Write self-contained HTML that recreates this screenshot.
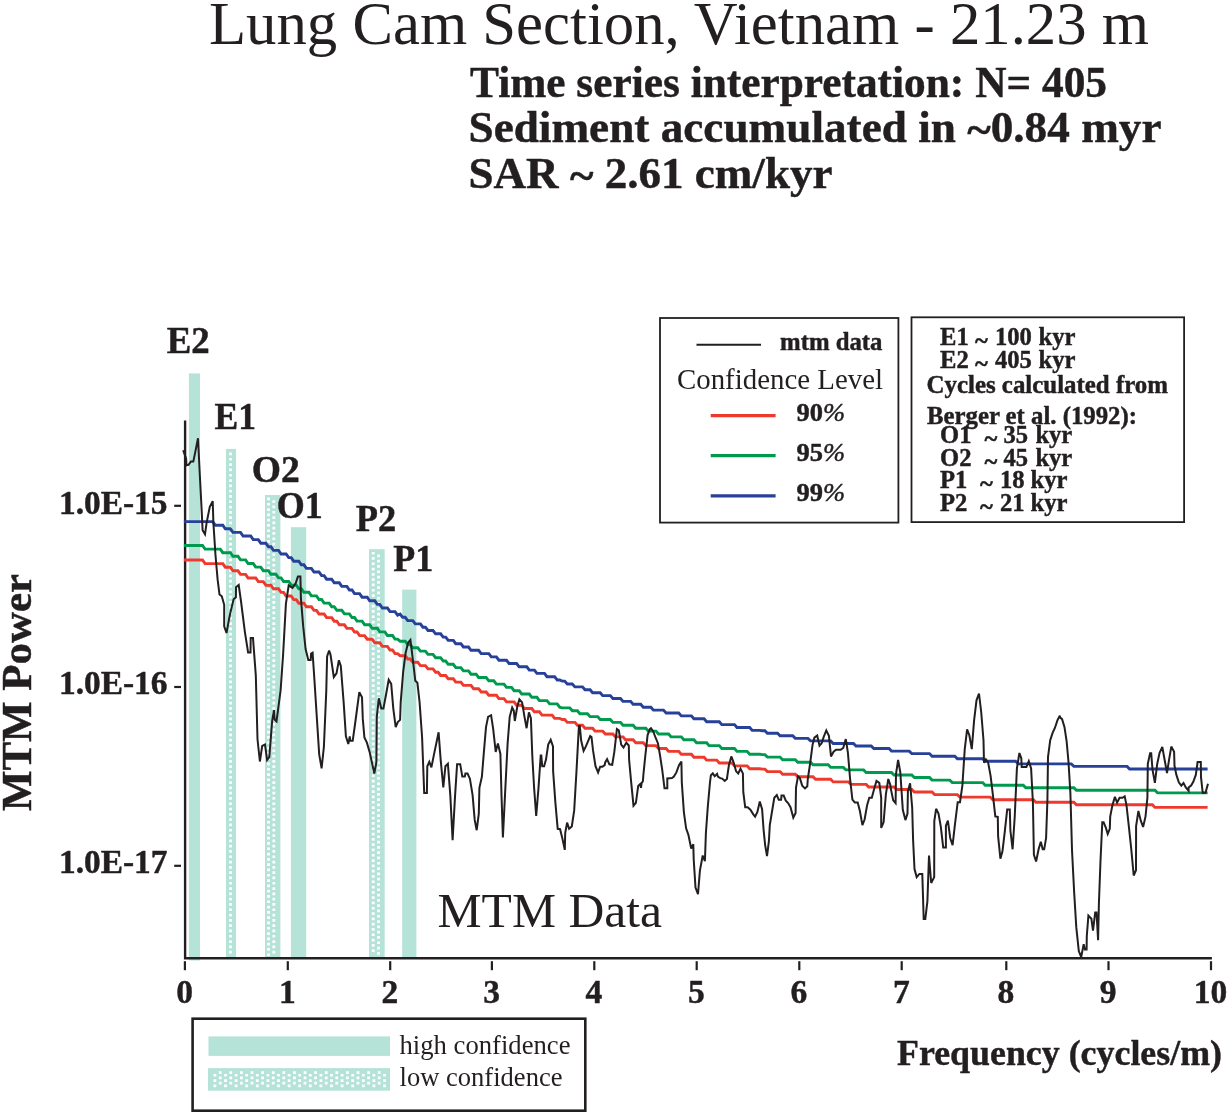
<!DOCTYPE html>
<html><head><meta charset="utf-8"><title>Lung Cam Section</title>
<style>
html,body{margin:0;padding:0;background:#fff;}
svg{display:block;font-family:"Liberation Serif","Times New Roman",serif;fill:#231f20;}
.b{font-weight:bold;stroke:#231f20;stroke-width:0.45px;stroke-linejoin:round;}
</style></head><body>
<svg width="1230" height="1116" viewBox="0 0 1230 1116">
<rect width="1230" height="1116" fill="#fff"/>
<rect x="188.9" y="373.4" width="11.1" height="587.1" fill="#b5e3d8"/>
<rect x="226" y="448.9" width="10.0" height="509.4" fill="#b5e3d8"/>
<path d="M229.1 452.6h2.8v2.7h-2.8zM229.1 457.9h2.8v2.7h-2.8zM229.1 463.2h2.8v2.7h-2.8zM229.1 468.6h2.8v2.7h-2.8zM229.1 473.9h2.8v2.7h-2.8zM229.1 479.2h2.8v2.7h-2.8zM229.1 484.5h2.8v2.7h-2.8zM229.1 489.8h2.8v2.7h-2.8zM229.1 495.1h2.8v2.7h-2.8zM229.1 500.4h2.8v2.7h-2.8zM229.1 505.7h2.8v2.7h-2.8zM229.1 511.0h2.8v2.7h-2.8zM229.1 516.2h2.8v2.7h-2.8zM229.1 521.5h2.8v2.7h-2.8zM229.1 526.8h2.8v2.7h-2.8zM229.1 532.1h2.8v2.7h-2.8zM229.1 537.4h2.8v2.7h-2.8zM229.1 542.7h2.8v2.7h-2.8zM229.1 548.0h2.8v2.7h-2.8zM229.1 553.3h2.8v2.7h-2.8zM229.1 558.6h2.8v2.7h-2.8zM229.1 563.9h2.8v2.7h-2.8zM229.1 569.2h2.8v2.7h-2.8zM229.1 574.5h2.8v2.7h-2.8zM229.1 579.8h2.8v2.7h-2.8zM229.1 585.1h2.8v2.7h-2.8zM229.1 590.4h2.8v2.7h-2.8zM229.1 595.7h2.8v2.7h-2.8zM229.1 601.0h2.8v2.7h-2.8zM229.1 606.3h2.8v2.7h-2.8zM229.1 611.6h2.8v2.7h-2.8zM229.1 616.9h2.8v2.7h-2.8zM229.1 622.2h2.8v2.7h-2.8zM229.1 627.5h2.8v2.7h-2.8zM229.1 632.8h2.8v2.7h-2.8zM229.1 638.1h2.8v2.7h-2.8zM229.1 643.4h2.8v2.7h-2.8zM229.1 648.7h2.8v2.7h-2.8zM229.1 654.0h2.8v2.7h-2.8zM229.1 659.3h2.8v2.7h-2.8zM229.1 664.6h2.8v2.7h-2.8zM229.1 669.9h2.8v2.7h-2.8zM229.1 675.2h2.8v2.7h-2.8zM229.1 680.5h2.8v2.7h-2.8zM229.1 685.8h2.8v2.7h-2.8zM229.1 691.1h2.8v2.7h-2.8zM229.1 696.4h2.8v2.7h-2.8zM229.1 701.7h2.8v2.7h-2.8zM229.1 707.0h2.8v2.7h-2.8zM229.1 712.3h2.8v2.7h-2.8zM229.1 717.6h2.8v2.7h-2.8zM229.1 722.9h2.8v2.7h-2.8zM229.1 728.2h2.8v2.7h-2.8zM229.1 733.5h2.8v2.7h-2.8zM229.1 738.8h2.8v2.7h-2.8zM229.1 744.1h2.8v2.7h-2.8zM229.1 749.4h2.8v2.7h-2.8zM229.1 754.7h2.8v2.7h-2.8zM229.1 760.0h2.8v2.7h-2.8zM229.1 765.3h2.8v2.7h-2.8zM229.1 770.6h2.8v2.7h-2.8zM229.1 775.9h2.8v2.7h-2.8zM229.1 781.2h2.8v2.7h-2.8zM229.1 786.5h2.8v2.7h-2.8zM229.1 791.8h2.8v2.7h-2.8zM229.1 797.1h2.8v2.7h-2.8zM229.1 802.4h2.8v2.7h-2.8zM229.1 807.7h2.8v2.7h-2.8zM229.1 813.0h2.8v2.7h-2.8zM229.1 818.3h2.8v2.7h-2.8zM229.1 823.6h2.8v2.7h-2.8zM229.1 828.9h2.8v2.7h-2.8zM229.1 834.2h2.8v2.7h-2.8zM229.1 839.5h2.8v2.7h-2.8zM229.1 844.8h2.8v2.7h-2.8zM229.1 850.1h2.8v2.7h-2.8zM229.1 855.4h2.8v2.7h-2.8zM229.1 860.7h2.8v2.7h-2.8zM229.1 866.0h2.8v2.7h-2.8zM229.1 871.3h2.8v2.7h-2.8zM229.1 876.6h2.8v2.7h-2.8zM229.1 881.9h2.8v2.7h-2.8zM229.1 887.2h2.8v2.7h-2.8zM229.1 892.5h2.8v2.7h-2.8zM229.1 897.8h2.8v2.7h-2.8zM229.1 903.1h2.8v2.7h-2.8zM229.1 908.4h2.8v2.7h-2.8zM229.1 913.7h2.8v2.7h-2.8zM229.1 919.0h2.8v2.7h-2.8zM229.1 924.3h2.8v2.7h-2.8zM229.1 929.6h2.8v2.7h-2.8zM229.1 934.9h2.8v2.7h-2.8zM229.1 940.2h2.8v2.7h-2.8zM229.1 945.5h2.8v2.7h-2.8zM229.1 950.8h2.8v2.7h-2.8z" fill="#fff"/>
<rect x="265" y="495" width="15.4" height="463.3" fill="#b5e3d8"/>
<path d="M267.1 497.6h2.8v2.7h-2.8zM267.1 502.9h2.8v2.7h-2.8zM267.1 508.2h2.8v2.7h-2.8zM267.1 513.5h2.8v2.7h-2.8zM267.1 518.8h2.8v2.7h-2.8zM267.1 524.1h2.8v2.7h-2.8zM267.1 529.4h2.8v2.7h-2.8zM267.1 534.7h2.8v2.7h-2.8zM267.1 540.0h2.8v2.7h-2.8zM267.1 545.3h2.8v2.7h-2.8zM267.1 550.6h2.8v2.7h-2.8zM267.1 555.9h2.8v2.7h-2.8zM267.1 561.2h2.8v2.7h-2.8zM267.1 566.5h2.8v2.7h-2.8zM267.1 571.8h2.8v2.7h-2.8zM267.1 577.1h2.8v2.7h-2.8zM267.1 582.4h2.8v2.7h-2.8zM267.1 587.7h2.8v2.7h-2.8zM267.1 593.0h2.8v2.7h-2.8zM267.1 598.3h2.8v2.7h-2.8zM267.1 603.6h2.8v2.7h-2.8zM267.1 608.9h2.8v2.7h-2.8zM267.1 614.2h2.8v2.7h-2.8zM267.1 619.5h2.8v2.7h-2.8zM267.1 624.8h2.8v2.7h-2.8zM267.1 630.1h2.8v2.7h-2.8zM267.1 635.4h2.8v2.7h-2.8zM267.1 640.7h2.8v2.7h-2.8zM267.1 646.0h2.8v2.7h-2.8zM267.1 651.3h2.8v2.7h-2.8zM267.1 656.6h2.8v2.7h-2.8zM267.1 661.9h2.8v2.7h-2.8zM267.1 667.2h2.8v2.7h-2.8zM267.1 672.5h2.8v2.7h-2.8zM267.1 677.8h2.8v2.7h-2.8zM267.1 683.1h2.8v2.7h-2.8zM267.1 688.4h2.8v2.7h-2.8zM267.1 693.7h2.8v2.7h-2.8zM267.1 699.0h2.8v2.7h-2.8zM267.1 704.3h2.8v2.7h-2.8zM267.1 709.6h2.8v2.7h-2.8zM267.1 714.9h2.8v2.7h-2.8zM267.1 720.2h2.8v2.7h-2.8zM267.1 725.5h2.8v2.7h-2.8zM267.1 730.8h2.8v2.7h-2.8zM267.1 736.1h2.8v2.7h-2.8zM267.1 741.4h2.8v2.7h-2.8zM267.1 746.7h2.8v2.7h-2.8zM267.1 752.0h2.8v2.7h-2.8zM267.1 757.3h2.8v2.7h-2.8zM267.1 762.6h2.8v2.7h-2.8zM267.1 767.9h2.8v2.7h-2.8zM267.1 773.2h2.8v2.7h-2.8zM267.1 778.5h2.8v2.7h-2.8zM267.1 783.8h2.8v2.7h-2.8zM267.1 789.1h2.8v2.7h-2.8zM267.1 794.4h2.8v2.7h-2.8zM267.1 799.7h2.8v2.7h-2.8zM267.1 805.0h2.8v2.7h-2.8zM267.1 810.3h2.8v2.7h-2.8zM267.1 815.6h2.8v2.7h-2.8zM267.1 820.9h2.8v2.7h-2.8zM267.1 826.2h2.8v2.7h-2.8zM267.1 831.5h2.8v2.7h-2.8zM267.1 836.8h2.8v2.7h-2.8zM267.1 842.1h2.8v2.7h-2.8zM267.1 847.4h2.8v2.7h-2.8zM267.1 852.7h2.8v2.7h-2.8zM267.1 858.0h2.8v2.7h-2.8zM267.1 863.3h2.8v2.7h-2.8zM267.1 868.6h2.8v2.7h-2.8zM267.1 873.9h2.8v2.7h-2.8zM267.1 879.2h2.8v2.7h-2.8zM267.1 884.5h2.8v2.7h-2.8zM267.1 889.8h2.8v2.7h-2.8zM267.1 895.1h2.8v2.7h-2.8zM267.1 900.4h2.8v2.7h-2.8zM267.1 905.7h2.8v2.7h-2.8zM267.1 911.0h2.8v2.7h-2.8zM267.1 916.3h2.8v2.7h-2.8zM267.1 921.6h2.8v2.7h-2.8zM267.1 926.9h2.8v2.7h-2.8zM267.1 932.2h2.8v2.7h-2.8zM267.1 937.5h2.8v2.7h-2.8zM267.1 942.8h2.8v2.7h-2.8zM267.1 948.1h2.8v2.7h-2.8zM267.1 953.4h2.8v2.7h-2.8zM272.4 500.3h2.8v2.7h-2.8zM272.4 505.6h2.8v2.7h-2.8zM272.4 510.9h2.8v2.7h-2.8zM272.4 516.2h2.8v2.7h-2.8zM272.4 521.5h2.8v2.7h-2.8zM272.4 526.8h2.8v2.7h-2.8zM272.4 532.1h2.8v2.7h-2.8zM272.4 537.4h2.8v2.7h-2.8zM272.4 542.7h2.8v2.7h-2.8zM272.4 548.0h2.8v2.7h-2.8zM272.4 553.3h2.8v2.7h-2.8zM272.4 558.6h2.8v2.7h-2.8zM272.4 563.9h2.8v2.7h-2.8zM272.4 569.2h2.8v2.7h-2.8zM272.4 574.5h2.8v2.7h-2.8zM272.4 579.8h2.8v2.7h-2.8zM272.4 585.1h2.8v2.7h-2.8zM272.4 590.4h2.8v2.7h-2.8zM272.4 595.7h2.8v2.7h-2.8zM272.4 601.0h2.8v2.7h-2.8zM272.4 606.3h2.8v2.7h-2.8zM272.4 611.6h2.8v2.7h-2.8zM272.4 616.9h2.8v2.7h-2.8zM272.4 622.2h2.8v2.7h-2.8zM272.4 627.5h2.8v2.7h-2.8zM272.4 632.8h2.8v2.7h-2.8zM272.4 638.1h2.8v2.7h-2.8zM272.4 643.4h2.8v2.7h-2.8zM272.4 648.7h2.8v2.7h-2.8zM272.4 654.0h2.8v2.7h-2.8zM272.4 659.3h2.8v2.7h-2.8zM272.4 664.6h2.8v2.7h-2.8zM272.4 669.9h2.8v2.7h-2.8zM272.4 675.2h2.8v2.7h-2.8zM272.4 680.5h2.8v2.7h-2.8zM272.4 685.8h2.8v2.7h-2.8zM272.4 691.1h2.8v2.7h-2.8zM272.4 696.4h2.8v2.7h-2.8zM272.4 701.7h2.8v2.7h-2.8zM272.4 707.0h2.8v2.7h-2.8zM272.4 712.3h2.8v2.7h-2.8zM272.4 717.6h2.8v2.7h-2.8zM272.4 722.9h2.8v2.7h-2.8zM272.4 728.2h2.8v2.7h-2.8zM272.4 733.5h2.8v2.7h-2.8zM272.4 738.8h2.8v2.7h-2.8zM272.4 744.1h2.8v2.7h-2.8zM272.4 749.4h2.8v2.7h-2.8zM272.4 754.7h2.8v2.7h-2.8zM272.4 760.0h2.8v2.7h-2.8zM272.4 765.3h2.8v2.7h-2.8zM272.4 770.6h2.8v2.7h-2.8zM272.4 775.9h2.8v2.7h-2.8zM272.4 781.2h2.8v2.7h-2.8zM272.4 786.5h2.8v2.7h-2.8zM272.4 791.8h2.8v2.7h-2.8zM272.4 797.1h2.8v2.7h-2.8zM272.4 802.4h2.8v2.7h-2.8zM272.4 807.7h2.8v2.7h-2.8zM272.4 813.0h2.8v2.7h-2.8zM272.4 818.3h2.8v2.7h-2.8zM272.4 823.6h2.8v2.7h-2.8zM272.4 828.9h2.8v2.7h-2.8zM272.4 834.2h2.8v2.7h-2.8zM272.4 839.5h2.8v2.7h-2.8zM272.4 844.8h2.8v2.7h-2.8zM272.4 850.1h2.8v2.7h-2.8zM272.4 855.4h2.8v2.7h-2.8zM272.4 860.7h2.8v2.7h-2.8zM272.4 866.0h2.8v2.7h-2.8zM272.4 871.3h2.8v2.7h-2.8zM272.4 876.6h2.8v2.7h-2.8zM272.4 881.9h2.8v2.7h-2.8zM272.4 887.2h2.8v2.7h-2.8zM272.4 892.5h2.8v2.7h-2.8zM272.4 897.8h2.8v2.7h-2.8zM272.4 903.1h2.8v2.7h-2.8zM272.4 908.4h2.8v2.7h-2.8zM272.4 913.7h2.8v2.7h-2.8zM272.4 919.0h2.8v2.7h-2.8zM272.4 924.3h2.8v2.7h-2.8zM272.4 929.6h2.8v2.7h-2.8zM272.4 934.9h2.8v2.7h-2.8zM272.4 940.2h2.8v2.7h-2.8zM272.4 945.5h2.8v2.7h-2.8zM272.4 950.8h2.8v2.7h-2.8z" fill="#fff"/>
<rect x="290.9" y="527.2" width="15.3" height="431.1" fill="#b5e3d8"/>
<rect x="369" y="549.2" width="15.7" height="409.1" fill="#b5e3d8"/>
<path d="M371.8 551.9h2.8v2.7h-2.8zM371.8 557.1h2.8v2.7h-2.8zM371.8 562.4h2.8v2.7h-2.8zM371.8 567.7h2.8v2.7h-2.8zM371.8 573.0h2.8v2.7h-2.8zM371.8 578.3h2.8v2.7h-2.8zM371.8 583.6h2.8v2.7h-2.8zM371.8 588.9h2.8v2.7h-2.8zM371.8 594.2h2.8v2.7h-2.8zM371.8 599.5h2.8v2.7h-2.8zM371.8 604.8h2.8v2.7h-2.8zM371.8 610.1h2.8v2.7h-2.8zM371.8 615.4h2.8v2.7h-2.8zM371.8 620.7h2.8v2.7h-2.8zM371.8 626.0h2.8v2.7h-2.8zM371.8 631.3h2.8v2.7h-2.8zM371.8 636.6h2.8v2.7h-2.8zM371.8 641.9h2.8v2.7h-2.8zM371.8 647.2h2.8v2.7h-2.8zM371.8 652.5h2.8v2.7h-2.8zM371.8 657.8h2.8v2.7h-2.8zM371.8 663.1h2.8v2.7h-2.8zM371.8 668.4h2.8v2.7h-2.8zM371.8 673.7h2.8v2.7h-2.8zM371.8 679.0h2.8v2.7h-2.8zM371.8 684.3h2.8v2.7h-2.8zM371.8 689.6h2.8v2.7h-2.8zM371.8 694.9h2.8v2.7h-2.8zM371.8 700.2h2.8v2.7h-2.8zM371.8 705.5h2.8v2.7h-2.8zM371.8 710.8h2.8v2.7h-2.8zM371.8 716.1h2.8v2.7h-2.8zM371.8 721.4h2.8v2.7h-2.8zM371.8 726.7h2.8v2.7h-2.8zM371.8 732.0h2.8v2.7h-2.8zM371.8 737.3h2.8v2.7h-2.8zM371.8 742.6h2.8v2.7h-2.8zM371.8 747.9h2.8v2.7h-2.8zM371.8 753.2h2.8v2.7h-2.8zM371.8 758.5h2.8v2.7h-2.8zM371.8 763.8h2.8v2.7h-2.8zM371.8 769.1h2.8v2.7h-2.8zM371.8 774.4h2.8v2.7h-2.8zM371.8 779.7h2.8v2.7h-2.8zM371.8 785.0h2.8v2.7h-2.8zM371.8 790.3h2.8v2.7h-2.8zM371.8 795.6h2.8v2.7h-2.8zM371.8 800.9h2.8v2.7h-2.8zM371.8 806.2h2.8v2.7h-2.8zM371.8 811.5h2.8v2.7h-2.8zM371.8 816.8h2.8v2.7h-2.8zM371.8 822.1h2.8v2.7h-2.8zM371.8 827.4h2.8v2.7h-2.8zM371.8 832.7h2.8v2.7h-2.8zM371.8 838.0h2.8v2.7h-2.8zM371.8 843.3h2.8v2.7h-2.8zM371.8 848.6h2.8v2.7h-2.8zM371.8 853.9h2.8v2.7h-2.8zM371.8 859.2h2.8v2.7h-2.8zM371.8 864.5h2.8v2.7h-2.8zM371.8 869.8h2.8v2.7h-2.8zM371.8 875.1h2.8v2.7h-2.8zM371.8 880.4h2.8v2.7h-2.8zM371.8 885.7h2.8v2.7h-2.8zM371.8 891.0h2.8v2.7h-2.8zM371.8 896.3h2.8v2.7h-2.8zM371.8 901.6h2.8v2.7h-2.8zM371.8 906.9h2.8v2.7h-2.8zM371.8 912.2h2.8v2.7h-2.8zM371.8 917.5h2.8v2.7h-2.8zM371.8 922.8h2.8v2.7h-2.8zM371.8 928.1h2.8v2.7h-2.8zM371.8 933.4h2.8v2.7h-2.8zM371.8 938.7h2.8v2.7h-2.8zM371.8 944.0h2.8v2.7h-2.8zM371.8 949.3h2.8v2.7h-2.8zM377.1 554.5h2.8v2.7h-2.8zM377.1 559.8h2.8v2.7h-2.8zM377.1 565.1h2.8v2.7h-2.8zM377.1 570.4h2.8v2.7h-2.8zM377.1 575.7h2.8v2.7h-2.8zM377.1 581.0h2.8v2.7h-2.8zM377.1 586.3h2.8v2.7h-2.8zM377.1 591.6h2.8v2.7h-2.8zM377.1 596.9h2.8v2.7h-2.8zM377.1 602.2h2.8v2.7h-2.8zM377.1 607.5h2.8v2.7h-2.8zM377.1 612.8h2.8v2.7h-2.8zM377.1 618.1h2.8v2.7h-2.8zM377.1 623.4h2.8v2.7h-2.8zM377.1 628.7h2.8v2.7h-2.8zM377.1 634.0h2.8v2.7h-2.8zM377.1 639.3h2.8v2.7h-2.8zM377.1 644.6h2.8v2.7h-2.8zM377.1 649.9h2.8v2.7h-2.8zM377.1 655.2h2.8v2.7h-2.8zM377.1 660.5h2.8v2.7h-2.8zM377.1 665.8h2.8v2.7h-2.8zM377.1 671.1h2.8v2.7h-2.8zM377.1 676.4h2.8v2.7h-2.8zM377.1 681.7h2.8v2.7h-2.8zM377.1 687.0h2.8v2.7h-2.8zM377.1 692.3h2.8v2.7h-2.8zM377.1 697.6h2.8v2.7h-2.8zM377.1 702.9h2.8v2.7h-2.8zM377.1 708.2h2.8v2.7h-2.8zM377.1 713.5h2.8v2.7h-2.8zM377.1 718.8h2.8v2.7h-2.8zM377.1 724.1h2.8v2.7h-2.8zM377.1 729.4h2.8v2.7h-2.8zM377.1 734.7h2.8v2.7h-2.8zM377.1 740.0h2.8v2.7h-2.8zM377.1 745.3h2.8v2.7h-2.8zM377.1 750.6h2.8v2.7h-2.8zM377.1 755.9h2.8v2.7h-2.8zM377.1 761.2h2.8v2.7h-2.8zM377.1 766.5h2.8v2.7h-2.8zM377.1 771.8h2.8v2.7h-2.8zM377.1 777.1h2.8v2.7h-2.8zM377.1 782.4h2.8v2.7h-2.8zM377.1 787.7h2.8v2.7h-2.8zM377.1 793.0h2.8v2.7h-2.8zM377.1 798.3h2.8v2.7h-2.8zM377.1 803.6h2.8v2.7h-2.8zM377.1 808.9h2.8v2.7h-2.8zM377.1 814.2h2.8v2.7h-2.8zM377.1 819.5h2.8v2.7h-2.8zM377.1 824.8h2.8v2.7h-2.8zM377.1 830.1h2.8v2.7h-2.8zM377.1 835.4h2.8v2.7h-2.8zM377.1 840.7h2.8v2.7h-2.8zM377.1 846.0h2.8v2.7h-2.8zM377.1 851.3h2.8v2.7h-2.8zM377.1 856.6h2.8v2.7h-2.8zM377.1 861.9h2.8v2.7h-2.8zM377.1 867.2h2.8v2.7h-2.8zM377.1 872.5h2.8v2.7h-2.8zM377.1 877.8h2.8v2.7h-2.8zM377.1 883.1h2.8v2.7h-2.8zM377.1 888.4h2.8v2.7h-2.8zM377.1 893.7h2.8v2.7h-2.8zM377.1 899.0h2.8v2.7h-2.8zM377.1 904.3h2.8v2.7h-2.8zM377.1 909.6h2.8v2.7h-2.8zM377.1 914.9h2.8v2.7h-2.8zM377.1 920.2h2.8v2.7h-2.8zM377.1 925.5h2.8v2.7h-2.8zM377.1 930.8h2.8v2.7h-2.8zM377.1 936.1h2.8v2.7h-2.8zM377.1 941.4h2.8v2.7h-2.8zM377.1 946.7h2.8v2.7h-2.8zM377.1 952.0h2.8v2.7h-2.8z" fill="#fff"/>
<rect x="402.2" y="589.6" width="14.2" height="368.7" fill="#b5e3d8"/>
<path d="M185.1 420.4V958.3H1211.9" fill="none" stroke="#231f20" stroke-width="2.4"/>
<line x1="184.9" y1="961.2" x2="184.9" y2="970.2" stroke="#231f20" stroke-width="2.2"/>
<line x1="287.8" y1="961.2" x2="287.8" y2="970.2" stroke="#231f20" stroke-width="2.2"/>
<line x1="390.2" y1="961.2" x2="390.2" y2="970.2" stroke="#231f20" stroke-width="2.2"/>
<line x1="491.9" y1="961.2" x2="491.9" y2="970.2" stroke="#231f20" stroke-width="2.2"/>
<line x1="594.3" y1="961.2" x2="594.3" y2="970.2" stroke="#231f20" stroke-width="2.2"/>
<line x1="696.7" y1="961.2" x2="696.7" y2="970.2" stroke="#231f20" stroke-width="2.2"/>
<line x1="799.3" y1="961.2" x2="799.3" y2="970.2" stroke="#231f20" stroke-width="2.2"/>
<line x1="901.7" y1="961.2" x2="901.7" y2="970.2" stroke="#231f20" stroke-width="2.2"/>
<line x1="1006.3" y1="961.2" x2="1006.3" y2="970.2" stroke="#231f20" stroke-width="2.2"/>
<line x1="1108.5" y1="961.2" x2="1108.5" y2="970.2" stroke="#231f20" stroke-width="2.2"/>
<line x1="1211.0" y1="961.2" x2="1211.0" y2="970.2" stroke="#231f20" stroke-width="2.2"/>
<line x1="174.2" y1="505.8" x2="181" y2="505.8" stroke="#231f20" stroke-width="2.2"/>
<line x1="174.2" y1="687" x2="181" y2="687" stroke="#231f20" stroke-width="2.2"/>
<line x1="174.2" y1="865.8" x2="181" y2="865.8" stroke="#231f20" stroke-width="2.2"/>
<polyline points="183.9,560.0 187.3,560.0 189.9,560.0 192.4,560.0 194.9,560.0 197.5,560.0 200.0,560.0 202.5,560.0 205.1,563.6 207.6,563.6 210.1,563.6 212.7,563.6 215.2,563.6 217.7,563.6 220.3,563.6 222.8,563.6 225.3,567.2 227.9,567.2 230.4,567.2 232.9,570.8 235.5,570.8 238.0,570.8 240.5,574.4 243.1,574.4 245.6,574.4 248.1,578.0 250.7,578.0 253.2,578.0 255.7,578.0 258.3,581.6 260.8,581.6 263.3,581.6 265.9,585.2 268.4,585.2 270.9,585.2 273.5,588.8 276.0,588.8 278.5,588.8 281.1,592.4 283.6,592.4 286.1,596.0 288.7,596.0 291.2,596.0 293.7,599.6 296.3,599.6 298.8,603.2 301.3,603.2 303.9,603.2 306.4,606.8 308.9,606.8 311.4,606.8 314.0,610.4 316.5,610.4 319.0,614.0 321.6,614.0 324.1,614.0 326.6,617.6 329.2,617.6 331.7,617.6 334.2,621.2 336.8,621.2 339.3,624.8 341.8,624.8 344.4,624.8 346.9,628.4 349.4,628.4 352.0,628.4 354.5,632.0 357.0,632.0 359.6,635.6 362.1,635.6 364.6,635.6 367.2,639.2 369.7,639.2 372.2,639.2 374.8,642.8 377.3,642.8 379.8,642.8 382.4,646.4 384.9,646.4 387.4,646.4 390.0,650.0 392.5,650.0 395.0,653.6 397.6,653.6 400.1,655.7 402.6,655.7 405.2,655.7 407.7,659.0 410.2,659.0 412.8,662.3 415.3,662.3 417.8,662.3 420.4,665.6 422.9,665.6 425.4,665.6 428.0,668.9 430.5,668.9 433.0,668.9 435.6,672.2 438.1,672.2 440.6,675.5 443.2,675.5 445.7,675.5 448.2,678.8 450.8,678.8 453.3,678.8 455.8,682.1 458.4,682.1 460.9,682.1 463.4,685.4 466.0,685.4 468.5,685.4 471.0,685.4 473.6,688.7 476.1,688.7 478.6,688.7 481.2,692.0 483.7,692.0 486.2,692.0 488.8,695.3 491.3,695.3 493.8,695.3 496.4,695.3 498.9,698.6 501.4,698.6 504.0,698.6 506.5,701.9 509.0,701.9 511.6,701.9 514.1,701.9 516.6,705.2 519.2,705.2 521.7,705.2 524.2,708.5 526.8,708.5 529.3,708.5 531.8,708.5 534.4,711.8 536.9,711.8 539.4,711.8 542.0,715.1 544.5,715.1 547.0,715.1 549.6,715.1 552.1,715.1 554.6,718.4 557.2,718.4 559.7,718.4 562.2,719.5 564.7,719.5 567.3,722.4 569.8,722.4 572.3,722.4 574.9,722.4 577.4,725.3 579.9,725.3 582.5,725.3 585.0,728.2 587.5,728.2 590.1,728.2 592.6,728.2 595.1,731.1 597.7,731.1 600.2,731.1 602.7,731.1 605.3,734.0 607.8,734.0 610.3,734.0 612.9,734.0 615.4,736.9 617.9,736.9 620.5,736.9 623.0,736.9 625.5,739.8 628.1,739.8 630.6,739.8 633.1,739.8 635.7,742.7 638.2,742.7 640.7,742.7 643.3,742.7 645.8,745.6 648.3,745.6 650.9,745.6 653.4,745.6 655.9,745.6 658.5,748.5 661.0,748.5 663.5,748.5 666.1,748.5 668.6,751.4 671.1,751.4 673.7,751.4 676.2,751.4 678.7,751.4 681.3,754.3 683.8,754.3 686.3,754.3 688.9,754.3 691.4,754.3 693.9,757.2 696.5,757.2 699.0,757.2 701.5,757.2 704.1,757.2 706.6,760.1 709.1,760.1 711.7,760.1 714.2,760.1 716.7,760.1 719.3,763.0 721.8,763.0 724.3,763.0 726.9,763.0 729.4,763.0 731.9,763.0 734.5,765.9 737.0,765.9 739.5,765.9 742.1,765.9 744.6,765.9 747.1,765.9 749.7,768.8 752.2,768.8 754.7,768.8 757.3,768.8 759.8,768.8 762.3,769.1 764.9,769.1 767.4,771.6 769.9,771.6 772.5,771.6 775.0,771.6 777.5,771.6 780.1,771.6 782.6,774.2 785.1,774.2 787.7,774.2 790.2,774.2 792.7,774.2 795.3,774.2 797.8,776.8 800.3,776.8 802.9,776.8 805.4,776.8 807.9,776.8 810.5,776.8 813.0,776.8 815.5,779.3 818.0,779.3 820.6,779.3 823.1,779.3 825.6,779.3 828.2,779.3 830.7,779.3 833.2,781.9 835.8,781.9 838.3,781.9 840.8,781.9 843.4,781.9 845.9,781.9 848.4,781.9 851.0,784.4 853.5,784.4 856.0,784.4 858.6,784.4 861.1,784.4 863.6,784.4 866.2,784.4 868.7,787.0 871.2,787.0 873.8,787.0 876.3,787.0 878.8,787.0 881.4,787.0 883.9,787.0 886.4,787.0 889.0,787.0 891.5,787.0 894.0,787.0 896.6,789.5 899.1,789.5 901.6,789.5 904.2,789.5 906.7,789.5 909.2,789.5 911.8,789.5 914.3,792.0 916.8,792.0 919.4,792.0 921.9,792.0 924.4,792.0 927.0,792.0 929.5,792.0 932.0,792.0 934.6,794.6 937.1,794.6 939.6,794.6 942.2,794.6 944.7,794.6 947.2,794.6 949.8,794.6 952.3,794.6 954.8,794.6 957.4,794.6 959.9,797.1 962.4,797.1 965.0,797.1 967.5,797.1 970.0,797.1 972.6,797.1 975.1,797.1 977.6,797.1 980.2,797.1 982.7,797.1 985.2,797.1 987.8,797.1 990.3,797.1 992.8,799.7 995.4,799.7 997.9,799.7 1000.4,799.7 1003.0,799.7 1005.5,799.7 1008.0,799.7 1010.6,799.7 1013.1,799.7 1015.6,799.7 1018.2,799.7 1020.7,799.7 1023.2,799.7 1025.8,799.7 1028.3,799.7 1030.8,799.7 1033.4,799.7 1035.9,802.2 1038.4,802.2 1041.0,802.2 1043.5,802.2 1046.0,802.2 1048.6,802.2 1051.1,802.2 1053.6,802.2 1056.2,802.2 1058.7,802.2 1061.2,802.2 1063.8,802.2 1066.3,802.2 1068.8,802.2 1071.3,802.2 1073.9,802.2 1076.4,804.8 1078.9,804.8 1081.5,804.8 1084.0,804.8 1086.5,804.8 1089.1,804.8 1091.6,804.8 1094.1,804.8 1096.7,804.8 1099.2,804.8 1101.7,804.8 1104.3,804.8 1106.8,804.8 1109.3,804.8 1111.9,804.8 1114.4,804.8 1116.9,804.8 1119.5,804.8 1122.0,804.8 1124.5,804.8 1127.1,804.8 1129.6,804.8 1132.1,804.8 1134.7,804.8 1137.2,804.8 1139.7,804.8 1142.3,804.8 1144.8,804.8 1147.3,804.8 1149.9,804.8 1152.4,804.8 1154.9,807.4 1157.5,807.4 1160.0,807.4 1162.5,807.4 1165.1,807.4 1167.6,807.4 1170.1,807.4 1172.7,807.4 1175.2,807.4 1177.7,807.4 1180.3,807.4 1182.8,807.4 1185.3,807.4 1187.9,807.4 1190.4,807.4 1192.9,807.4 1195.5,807.4 1198.0,807.4 1200.5,807.4 1203.1,807.4 1205.6,807.4 1207.6,807.4" fill="none" stroke="#ee3a2d" stroke-width="2.9" stroke-linejoin="miter"/>
<polyline points="183.9,545.5 187.3,545.5 189.9,545.5 192.4,545.5 194.9,545.5 197.5,545.5 200.0,545.5 202.5,545.5 205.1,549.1 207.6,549.1 210.1,549.1 212.7,549.1 215.2,549.1 217.7,549.1 220.3,549.1 222.8,552.7 225.3,552.7 227.9,552.7 230.4,552.7 232.9,556.3 235.5,556.3 238.0,556.3 240.5,559.9 243.1,559.9 245.6,559.9 248.1,563.5 250.7,563.5 253.2,563.5 255.7,567.1 258.3,567.1 260.8,567.1 263.3,570.7 265.9,570.7 268.4,570.7 270.9,574.3 273.5,574.3 276.0,574.3 278.5,577.9 281.1,577.9 283.6,581.5 286.1,581.5 288.7,581.5 291.2,585.1 293.7,585.1 296.3,585.1 298.8,588.7 301.3,588.7 303.9,592.3 306.4,592.3 308.9,592.3 311.4,595.9 314.0,595.9 316.5,595.9 319.0,599.5 321.6,599.5 324.1,603.1 326.6,603.1 329.2,603.1 331.7,606.7 334.2,606.7 336.8,610.3 339.3,610.3 341.8,610.3 344.4,613.9 346.9,613.9 349.4,613.9 352.0,617.5 354.5,617.5 357.0,621.1 359.6,621.1 362.1,621.1 364.6,624.7 367.2,624.7 369.7,624.7 372.2,628.3 374.8,628.3 377.3,628.3 379.8,631.9 382.4,631.9 384.9,631.9 387.4,635.5 390.0,635.5 392.5,635.5 395.0,639.1 397.6,639.1 400.1,641.2 402.6,641.2 405.2,641.2 407.7,644.5 410.2,644.5 412.8,647.8 415.3,647.8 417.8,647.8 420.4,651.1 422.9,651.1 425.4,651.1 428.0,654.4 430.5,654.4 433.0,654.4 435.6,657.7 438.1,657.7 440.6,657.7 443.2,661.0 445.7,661.0 448.2,664.3 450.8,664.3 453.3,664.3 455.8,667.6 458.4,667.6 460.9,667.6 463.4,670.9 466.0,670.9 468.5,670.9 471.0,674.2 473.6,674.2 476.1,674.2 478.6,677.5 481.2,677.5 483.7,677.5 486.2,677.5 488.8,680.8 491.3,680.8 493.8,680.8 496.4,684.1 498.9,684.1 501.4,684.1 504.0,684.1 506.5,687.4 509.0,687.4 511.6,687.4 514.1,690.7 516.6,690.7 519.2,690.7 521.7,694.0 524.2,694.0 526.8,694.0 529.3,694.0 531.8,697.3 534.4,697.3 536.9,697.3 539.4,700.6 542.0,700.6 544.5,700.6 547.0,700.6 549.6,703.9 552.1,703.9 554.6,703.9 557.2,703.9 559.7,707.2 562.2,707.9 564.7,707.9 567.3,707.9 569.8,707.9 572.3,710.8 574.9,710.8 577.4,710.8 579.9,713.7 582.5,713.7 585.0,713.7 587.5,713.7 590.1,716.6 592.6,716.6 595.1,716.6 597.7,716.6 600.2,719.5 602.7,719.5 605.3,719.5 607.8,719.5 610.3,719.5 612.9,722.4 615.4,722.4 617.9,722.4 620.5,722.4 623.0,725.3 625.5,725.3 628.1,725.3 630.6,725.3 633.1,725.3 635.7,728.2 638.2,728.2 640.7,728.2 643.3,728.2 645.8,728.2 648.3,731.1 650.9,731.1 653.4,731.1 655.9,731.1 658.5,734.0 661.0,734.0 663.5,734.0 666.1,734.0 668.6,734.0 671.1,736.9 673.7,736.9 676.2,736.9 678.7,736.9 681.3,736.9 683.8,739.8 686.3,739.8 688.9,739.8 691.4,739.8 693.9,739.8 696.5,742.7 699.0,742.7 701.5,742.7 704.1,742.7 706.6,742.7 709.1,745.6 711.7,745.6 714.2,745.6 716.7,745.6 719.3,745.6 721.8,748.5 724.3,748.5 726.9,748.5 729.4,748.5 731.9,748.5 734.5,748.5 737.0,751.4 739.5,751.4 742.1,751.4 744.6,751.4 747.1,751.4 749.7,754.3 752.2,754.3 754.7,754.3 757.3,754.3 759.8,754.3 762.3,754.6 764.9,754.6 767.4,757.1 769.9,757.1 772.5,757.1 775.0,757.1 777.5,757.1 780.1,757.1 782.6,759.7 785.1,759.7 787.7,759.7 790.2,759.7 792.7,759.7 795.3,759.7 797.8,762.2 800.3,762.2 802.9,762.2 805.4,762.2 807.9,762.2 810.5,762.2 813.0,764.8 815.5,764.8 818.0,764.8 820.6,764.8 823.1,764.8 825.6,764.8 828.2,764.8 830.7,767.4 833.2,767.4 835.8,767.4 838.3,767.4 840.8,767.4 843.4,767.4 845.9,769.9 848.4,769.9 851.0,769.9 853.5,769.9 856.0,769.9 858.6,769.9 861.1,769.9 863.6,769.9 866.2,772.5 868.7,772.5 871.2,772.5 873.8,772.5 876.3,772.5 878.8,772.5 881.4,772.5 883.9,772.5 886.4,772.5 889.0,772.5 891.5,772.5 894.0,775.0 896.6,775.0 899.1,775.0 901.6,775.0 904.2,775.0 906.7,775.0 909.2,775.0 911.8,775.0 914.3,777.5 916.8,777.5 919.4,777.5 921.9,777.5 924.4,777.5 927.0,777.5 929.5,777.5 932.0,780.1 934.6,780.1 937.1,780.1 939.6,780.1 942.2,780.1 944.7,780.1 947.2,780.1 949.8,780.1 952.3,782.6 954.8,782.6 957.4,782.6 959.9,782.6 962.4,782.6 965.0,782.6 967.5,782.6 970.0,782.6 972.6,782.6 975.1,782.6 977.6,782.6 980.2,782.6 982.7,782.6 985.2,785.2 987.8,785.2 990.3,785.2 992.8,785.2 995.4,785.2 997.9,785.2 1000.4,785.2 1003.0,785.2 1005.5,785.2 1008.0,785.2 1010.6,785.2 1013.1,785.2 1015.6,785.2 1018.2,785.2 1020.7,785.2 1023.2,785.2 1025.8,787.8 1028.3,787.8 1030.8,787.8 1033.4,787.8 1035.9,787.8 1038.4,787.8 1041.0,787.8 1043.5,787.8 1046.0,787.8 1048.6,787.8 1051.1,787.8 1053.6,787.8 1056.2,787.8 1058.7,787.8 1061.2,787.8 1063.8,787.8 1066.3,787.8 1068.8,787.8 1071.3,787.8 1073.9,787.8 1076.4,790.3 1078.9,790.3 1081.5,790.3 1084.0,790.3 1086.5,790.3 1089.1,790.3 1091.6,790.3 1094.1,790.3 1096.7,790.3 1099.2,790.3 1101.7,790.3 1104.3,790.3 1106.8,790.3 1109.3,790.3 1111.9,790.3 1114.4,790.3 1116.9,790.3 1119.5,790.3 1122.0,790.3 1124.5,790.3 1127.1,790.3 1129.6,790.3 1132.1,790.3 1134.7,790.3 1137.2,790.3 1139.7,790.3 1142.3,790.3 1144.8,790.3 1147.3,790.3 1149.9,790.3 1152.4,790.3 1154.9,790.3 1157.5,792.9 1160.0,792.9 1162.5,792.9 1165.1,792.9 1167.6,792.9 1170.1,792.9 1172.7,792.9 1175.2,792.9 1177.7,792.9 1180.3,792.9 1182.8,792.9 1185.3,792.9 1187.9,792.9 1190.4,792.9 1192.9,792.9 1195.5,792.9 1198.0,792.9 1200.5,792.9 1203.1,792.9 1205.6,792.9 1207.6,792.9" fill="none" stroke="#009a4e" stroke-width="2.9" stroke-linejoin="miter"/>
<polyline points="183.9,521.6 187.3,521.6 189.9,521.6 192.4,521.6 194.9,521.6 197.5,521.6 200.0,521.6 202.5,521.6 205.1,521.6 207.6,521.6 210.1,521.6 212.7,521.6 215.2,525.2 217.7,525.2 220.3,525.2 222.8,525.2 225.3,528.8 227.9,528.8 230.4,528.8 232.9,532.4 235.5,532.4 238.0,532.4 240.5,532.4 243.1,536.0 245.6,536.0 248.1,536.0 250.7,536.0 253.2,539.6 255.7,539.6 258.3,539.6 260.8,543.2 263.3,543.2 265.9,543.2 268.4,546.8 270.9,546.8 273.5,550.4 276.0,550.4 278.5,550.4 281.1,554.0 283.6,554.0 286.1,554.0 288.7,557.6 291.2,557.6 293.7,561.2 296.3,561.2 298.8,561.2 301.3,564.8 303.9,564.8 306.4,568.4 308.9,568.4 311.4,568.4 314.0,572.0 316.5,572.0 319.0,572.0 321.6,575.6 324.1,575.6 326.6,579.2 329.2,579.2 331.7,579.2 334.2,582.8 336.8,582.8 339.3,582.8 341.8,586.4 344.4,586.4 346.9,586.4 349.4,590.0 352.0,590.0 354.5,593.6 357.0,593.6 359.6,593.6 362.1,597.2 364.6,597.2 367.2,597.2 369.7,600.8 372.2,600.8 374.8,600.8 377.3,604.4 379.8,604.4 382.4,608.0 384.9,608.0 387.4,608.0 390.0,611.6 392.5,611.6 395.0,611.6 397.6,615.2 400.1,614.0 402.6,617.3 405.2,617.3 407.7,620.6 410.2,620.6 412.8,620.6 415.3,623.9 417.8,623.9 420.4,623.9 422.9,627.2 425.4,627.2 428.0,630.5 430.5,630.5 433.0,630.5 435.6,633.8 438.1,633.8 440.6,633.8 443.2,637.1 445.7,637.1 448.2,640.4 450.8,640.4 453.3,640.4 455.8,643.7 458.4,643.7 460.9,643.7 463.4,647.0 466.0,647.0 468.5,647.0 471.0,650.3 473.6,650.3 476.1,650.3 478.6,650.3 481.2,653.6 483.7,653.6 486.2,653.6 488.8,653.6 491.3,656.9 493.8,656.9 496.4,656.9 498.9,660.2 501.4,660.2 504.0,660.2 506.5,660.2 509.0,663.5 511.6,663.5 514.1,663.5 516.6,663.5 519.2,666.8 521.7,666.8 524.2,666.8 526.8,666.8 529.3,670.1 531.8,670.1 534.4,670.1 536.9,673.4 539.4,673.4 542.0,673.4 544.5,673.4 547.0,676.7 549.6,676.7 552.1,676.7 554.6,676.7 557.2,680.0 559.7,680.0 562.2,681.1 564.7,681.1 567.3,684.0 569.8,684.0 572.3,684.0 574.9,686.9 577.4,686.9 579.9,686.9 582.5,686.9 585.0,689.8 587.5,689.8 590.1,689.8 592.6,692.7 595.1,692.7 597.7,692.7 600.2,692.7 602.7,695.6 605.3,695.6 607.8,695.6 610.3,695.6 612.9,698.5 615.4,698.5 617.9,698.5 620.5,698.5 623.0,701.4 625.5,701.4 628.1,701.4 630.6,701.4 633.1,704.3 635.7,704.3 638.2,704.3 640.7,704.3 643.3,707.2 645.8,707.2 648.3,707.2 650.9,707.2 653.4,710.1 655.9,710.1 658.5,710.1 661.0,710.1 663.5,710.1 666.1,713.0 668.6,713.0 671.1,713.0 673.7,713.0 676.2,713.0 678.7,713.0 681.3,715.9 683.8,715.9 686.3,715.9 688.9,715.9 691.4,715.9 693.9,718.8 696.5,718.8 699.0,718.8 701.5,718.8 704.1,718.8 706.6,721.7 709.1,721.7 711.7,721.7 714.2,721.7 716.7,721.7 719.3,721.7 721.8,724.6 724.3,724.6 726.9,724.6 729.4,724.6 731.9,724.6 734.5,724.6 737.0,727.5 739.5,727.5 742.1,727.5 744.6,727.5 747.1,727.5 749.7,727.5 752.2,730.4 754.7,730.4 757.3,730.4 759.8,730.4 762.3,730.7 764.9,730.7 767.4,733.2 769.9,733.2 772.5,733.2 775.0,733.2 777.5,733.2 780.1,735.8 782.6,735.8 785.1,735.8 787.7,735.8 790.2,735.8 792.7,735.8 795.3,738.4 797.8,738.4 800.3,738.4 802.9,738.4 805.4,738.4 807.9,738.4 810.5,740.9 813.0,740.9 815.5,740.9 818.0,740.9 820.6,740.9 823.1,740.9 825.6,740.9 828.2,740.9 830.7,740.9 833.2,743.5 835.8,743.5 838.3,743.5 840.8,743.5 843.4,743.5 845.9,743.5 848.4,743.5 851.0,743.5 853.5,743.5 856.0,746.0 858.6,746.0 861.1,746.0 863.6,746.0 866.2,746.0 868.7,746.0 871.2,746.0 873.8,748.5 876.3,748.5 878.8,748.5 881.4,748.5 883.9,748.5 886.4,748.5 889.0,748.5 891.5,751.1 894.0,751.1 896.6,751.1 899.1,751.1 901.6,751.1 904.2,751.1 906.7,751.1 909.2,751.1 911.8,753.6 914.3,753.6 916.8,753.6 919.4,753.6 921.9,753.6 924.4,753.6 927.0,753.6 929.5,753.6 932.0,756.2 934.6,756.2 937.1,756.2 939.6,756.2 942.2,756.2 944.7,756.2 947.2,756.2 949.8,756.2 952.3,756.2 954.8,756.2 957.4,758.8 959.9,758.8 962.4,758.8 965.0,758.8 967.5,758.8 970.0,758.8 972.6,758.8 975.1,758.8 977.6,758.8 980.2,758.8 982.7,758.8 985.2,761.3 987.8,761.3 990.3,761.3 992.8,761.3 995.4,761.3 997.9,761.3 1000.4,761.3 1003.0,761.3 1005.5,761.3 1008.0,761.3 1010.6,761.3 1013.1,761.3 1015.6,761.3 1018.2,763.9 1020.7,763.9 1023.2,763.9 1025.8,763.9 1028.3,763.9 1030.8,763.9 1033.4,763.9 1035.9,763.9 1038.4,763.9 1041.0,763.9 1043.5,763.9 1046.0,763.9 1048.6,763.9 1051.1,763.9 1053.6,763.9 1056.2,763.9 1058.7,763.9 1061.2,763.9 1063.8,763.9 1066.3,763.9 1068.8,763.9 1071.3,763.9 1073.9,766.4 1076.4,766.4 1078.9,766.4 1081.5,766.4 1084.0,766.4 1086.5,766.4 1089.1,766.4 1091.6,766.4 1094.1,766.4 1096.7,766.4 1099.2,766.4 1101.7,766.4 1104.3,766.4 1106.8,766.4 1109.3,766.4 1111.9,766.4 1114.4,766.4 1116.9,766.4 1119.5,766.4 1122.0,766.4 1124.5,766.4 1127.1,766.4 1129.6,769.0 1132.1,769.0 1134.7,769.0 1137.2,769.0 1139.7,769.0 1142.3,769.0 1144.8,769.0 1147.3,769.0 1149.9,769.0 1152.4,769.0 1154.9,769.0 1157.5,769.0 1160.0,769.0 1162.5,769.0 1165.1,769.0 1167.6,769.0 1170.1,769.0 1172.7,769.0 1175.2,769.0 1177.7,769.0 1180.3,769.0 1182.8,769.0 1185.3,769.0 1187.9,769.0 1190.4,769.0 1192.9,769.0 1195.5,769.0 1198.0,769.0 1200.5,769.0 1203.1,769.0 1205.6,769.0 1207.6,769.0" fill="none" stroke="#27409a" stroke-width="2.9" stroke-linejoin="miter"/>
<polyline points="183.2,450.3 184.0,452.7 186.1,458.4 186.5,465.2 188.5,464.8 190.9,461.6 193.3,461.6 195.3,451.9 198.0,438.2 199.8,474.5 201.8,513.2 202.6,530.2 205.0,534.2 206.6,522.9 209.8,506.8 212.7,501.1 213.4,522.9 215.5,555.2 217.6,579.4 219.5,594.5 221.8,596.3 224.2,604.8 224.2,626.4 226.5,633.0 229.8,615.1 233.6,599.2 235.9,597.3 236.0,587.3 238.7,585.0 241.1,602.0 244.9,632.1 248.1,652.4 250.5,652.4 250.7,638.1 253.0,638.1 255.8,675.3 257.5,739.3 259.9,761.5 262.2,745.9 265.0,744.5 267.1,760.0 269.3,757.1 272.2,720.5 274.0,710.1 274.6,719.5 276.5,721.4 280.6,690.4 283.1,654.6 285.9,603.9 288.7,585.4 292.5,587.9 295.7,583.2 297.9,576.6 300.4,576.6 300.9,598.2 303.2,626.4 305.6,649.0 308.3,659.9 310.7,659.9 311.1,653.7 312.6,652.8 314.5,681.0 316.9,718.6 319.2,754.3 321.6,768.4 323.9,746.8 326.3,690.4 327.1,656.5 329.1,650.5 330.5,654.6 333.8,677.2 336.5,673.4 338.9,660.3 340.8,665.9 343.6,701.7 345.9,736.4 348.3,744.0 349.8,736.4 350.2,740.8 352.7,740.8 355.2,723.0 359.3,692.1 362.0,697.3 362.8,718.9 364.4,737.5 366.9,742.6 369.6,751.9 372.3,764.2 374.3,773.5 376.4,762.2 376.8,716.8 378.8,698.3 381.3,708.6 383.4,708.6 386.1,694.2 388.7,679.8 391.2,683.9 393.3,708.6 395.7,727.1 397.8,722.0 400.1,719.9 400.7,702.4 403.2,671.5 405.6,653.0 408.1,642.7 410.4,640.0 412.8,659.2 415.3,680.8 417.4,682.8 419.6,702.4 422.1,737.5 424.2,793.1 426.9,793.1 427.3,766.3 429.3,761.8 431.4,767.3 434.1,753.9 438.6,732.3 440.7,760.1 443.3,787.3 445.4,766.3 447.9,763.8 450.3,795.1 452.6,840.1 455.1,795.1 457.1,764.2 460.2,764.2 462.3,776.6 464.8,776.6 465.4,773.5 467.5,773.5 469.9,778.7 472.6,795.1 474.7,819.9 476.7,830.2 478.8,813.7 479.4,787.9 481.9,776.6 483.9,751.9 486.0,727.1 488.1,716.8 491.1,715.2 493.2,729.2 495.7,751.9 497.9,743.6 500.4,753.9 501.5,795.1 502.9,837.4 505.0,795.1 507.6,743.6 509.7,716.8 512.2,707.6 513.8,710.7 514.8,721.0 517.3,706.5 519.4,699.3 522.1,702.4 524.5,716.8 526.6,728.2 528.9,712.3 530.9,718.2 532.3,755.8 534.1,787.8 536.2,816.0 538.5,787.8 540.7,755.5 541.3,755.5 542.2,766.2 544.1,766.2 546.0,759.6 548.2,744.6 550.7,739.8 553.0,746.4 553.1,770.9 555.4,802.9 557.7,828.8 560.1,829.2 562.4,838.6 564.8,849.9 565.2,833.0 567.1,822.6 569.1,828.8 571.8,826.4 574.2,810.4 576.5,770.9 578.9,726.1 579.8,726.1 581.2,740.8 583.6,750.8 585.9,746.4 590.2,736.1 591.5,737.0 593.0,750.2 595.5,766.2 598.1,772.4 600.2,766.7 602.4,766.7 604.7,765.2 605.2,762.4 607.1,759.2 609.4,764.3 612.2,764.9 614.3,752.1 616.9,729.1 618.8,730.4 621.2,744.6 623.5,747.4 626.3,742.7 628.8,745.5 629.1,759.6 631.0,780.3 633.5,805.7 635.9,802.9 638.2,785.9 640.0,784.1 641.0,787.8 641.6,783.1 642.9,781.2 643.4,774.6 645.3,755.8 647.6,735.1 649.8,729.1 651.0,728.2 653.2,731.4 655.7,738.0 657.9,743.2 659.8,754.0 662.1,769.0 664.5,788.2 667.3,788.2 667.3,778.4 672.0,778.0 673.9,776.5 676.4,772.4 679.0,765.2 681.4,761.5 681.8,782.2 683.9,812.3 686.1,828.3 688.4,834.8 691.2,848.6 693.3,844.2 693.7,859.3 695.5,887.5 698.0,894.1 699.9,870.6 702.7,855.5 704.9,861.2 705.9,833.0 707.8,806.6 710.0,782.2 710.9,775.2 712.8,773.4 714.7,776.2 717.1,773.9 717.9,776.7 720.3,778.1 722.2,778.6 724.7,780.9 726.9,779.0 728.8,765.8 731.3,756.4 733.5,762.1 736.0,771.1 738.2,773.4 740.5,768.7 742.9,773.4 743.3,792.2 745.2,807.2 747.6,807.2 750.4,809.7 753.3,814.4 755.1,816.6 757.4,811.9 759.8,801.6 762.1,809.1 763.6,829.8 765.1,844.8 767.0,856.1 768.9,841.1 769.8,825.1 772.1,811.0 774.3,797.8 776.8,795.0 778.7,799.7 781.1,799.7 781.5,795.6 783.7,795.6 785.8,800.6 788.1,803.1 790.5,807.2 793.3,817.6 795.6,812.9 796.0,787.5 798.0,776.2 799.9,778.1 802.2,785.6 805.0,788.4 807.3,786.2 807.8,779.0 810.3,762.1 812.5,745.1 814.4,737.6 817.2,735.4 819.5,745.7 821.6,743.3 823.8,736.7 826.3,730.5 828.9,735.7 831.0,756.4 833.6,751.7 836.0,749.8 840.7,749.8 843.2,748.0 845.8,739.1 847.9,752.7 850.1,779.0 852.4,799.7 854.8,802.5 857.7,802.5 859.9,811.0 862.4,825.1 864.6,819.5 867.1,805.3 869.3,797.8 871.8,797.8 874.0,789.4 876.5,780.9 879.3,782.8 881.2,797.8 881.2,827.9 883.6,822.3 885.9,794.1 888.3,779.0 890.2,784.6 890.9,789.1 893.2,800.4 895.6,803.2 896.0,774.0 898.1,759.9 900.3,772.2 902.8,809.8 905.4,820.1 907.5,813.5 907.9,791.0 910.1,783.4 912.2,807.9 913.1,840.0 914.5,869.0 916.7,877.1 919.4,873.9 922.3,873.9 923.7,919.0 925.3,919.0 927.4,901.3 929.0,855.6 931.2,883.0 934.2,877.1 934.3,821.1 936.1,808.8 938.5,813.5 940.8,826.7 943.2,847.4 945.9,847.4 945.9,825.8 947.9,820.7 950.2,838.0 952.6,845.1 954.9,824.8 957.7,802.2 960.0,802.2 962.4,785.3 964.7,749.6 967.1,729.3 969.4,735.5 971.8,749.2 974.1,720.4 976.5,700.3 979.0,693.5 981.2,712.0 983.5,740.2 984.0,762.8 985.9,759.4 988.2,762.8 990.6,775.9 993.1,796.6 995.3,816.4 997.8,816.9 998.1,836.1 1000.4,858.7 1002.5,851.1 1004.7,832.3 1007.2,809.4 1009.8,809.4 1010.4,830.5 1012.6,849.3 1014.7,817.3 1016.9,768.4 1019.4,753.0 1021.3,758.1 1021.7,766.9 1026.4,766.9 1028.8,761.2 1031.1,768.4 1032.9,802.2 1033.9,854.9 1036.1,861.5 1038.6,849.3 1040.8,841.7 1042.7,849.3 1044.2,849.3 1046.1,838.0 1047.4,800.4 1048.0,757.1 1050.2,740.2 1052.7,732.7 1054.9,728.0 1057.4,720.4 1059.8,715.7 1060.2,717.6 1062.1,719.1 1064.5,727.2 1066.6,741.0 1068.5,762.0 1070.4,793.4 1072.0,850.0 1074.2,893.0 1076.3,927.4 1078.8,951.1 1081.2,957.0 1083.7,944.1 1084.9,949.5 1086.6,949.5 1086.8,936.0 1088.4,915.6 1091.4,918.8 1093.0,930.6 1095.2,912.4 1096.5,912.4 1098.1,940.3 1098.9,903.8 1100.5,860.8 1102.3,822.2 1103.6,822.2 1105.9,827.9 1107.7,833.9 1109.8,828.8 1110.2,816.6 1112.4,805.3 1114.9,796.9 1117.1,802.5 1119.6,797.8 1122.4,797.8 1124.7,796.3 1126.5,805.3 1129.0,827.9 1131.4,850.5 1133.7,875.5 1136.0,870.2 1136.1,826.0 1138.4,811.0 1140.7,820.4 1143.1,827.0 1145.5,816.6 1147.4,797.8 1147.8,763.9 1150.1,753.2 1151.2,753.2 1152.5,769.6 1154.9,782.8 1157.2,763.9 1159.6,752.7 1162.3,747.0 1164.7,760.2 1167.0,773.0 1169.0,760.2 1171.3,746.6 1174.1,751.7 1174.5,765.8 1176.4,774.9 1178.8,782.4 1181.3,785.6 1183.5,783.1 1185.8,787.5 1188.6,790.8 1188.6,787.5 1191.1,785.6 1193.3,781.8 1195.8,774.9 1197.6,762.1 1200.8,762.1 1201.0,777.1 1202.7,792.7 1205.5,792.7 1208.0,783.7" fill="none" stroke="#231f20" stroke-width="2" stroke-linejoin="miter" stroke-miterlimit="3"/>
<text x="209" y="43.9" font-size="62" textLength="940" lengthAdjust="spacingAndGlyphs">Lung Cam Section, Vietnam - 21.23 m</text>
<text x="470" y="96.5" font-size="44" class="b" textLength="637" lengthAdjust="spacingAndGlyphs">Time series interpretation: N= 405</text>
<text x="468.5" y="141.8" font-size="44" class="b" textLength="693" lengthAdjust="spacingAndGlyphs">Sediment accumulated in <tspan dy="2">~</tspan><tspan dy="-2">0.84 myr</tspan></text>
<text x="468.5" y="187.9" font-size="44" class="b" textLength="364" lengthAdjust="spacingAndGlyphs">SAR <tspan dy="2">~</tspan><tspan dy="-2"> 2.61 cm/kyr</tspan></text>
<text x="59" y="514.3" font-size="33" class="b" textLength="108.5" lengthAdjust="spacingAndGlyphs">1.0E-15</text>
<text x="59" y="693.5" font-size="33" class="b" textLength="108.5" lengthAdjust="spacingAndGlyphs">1.0E-16</text>
<text x="59" y="872.7" font-size="33" class="b" textLength="108.5" lengthAdjust="spacingAndGlyphs">1.0E-17</text>
<text transform="translate(31.3 811) rotate(-90)" font-size="41.5" class="b" textLength="237" lengthAdjust="spacingAndGlyphs">MTM Power</text>
<text x="166.7" y="353" font-size="37" class="b" textLength="43" lengthAdjust="spacingAndGlyphs">E2</text>
<text x="214.5" y="428.8" font-size="37" class="b" textLength="41.5" lengthAdjust="spacingAndGlyphs">E1</text>
<text x="251.8" y="482" font-size="37" class="b" textLength="48" lengthAdjust="spacingAndGlyphs">O2</text>
<text x="276.8" y="518.3" font-size="37" class="b" textLength="46" lengthAdjust="spacingAndGlyphs">O1</text>
<text x="355.7" y="531" font-size="37" class="b" textLength="40.5" lengthAdjust="spacingAndGlyphs">P2</text>
<text x="393.3" y="570.8" font-size="37" class="b" textLength="40" lengthAdjust="spacingAndGlyphs">P1</text>
<text x="184.5" y="1002.5" font-size="33.5" class="b" text-anchor="middle">0</text>
<text x="287.40000000000003" y="1002.5" font-size="33.5" class="b" text-anchor="middle">1</text>
<text x="389.8" y="1002.5" font-size="33.5" class="b" text-anchor="middle">2</text>
<text x="491.5" y="1002.5" font-size="33.5" class="b" text-anchor="middle">3</text>
<text x="593.9" y="1002.5" font-size="33.5" class="b" text-anchor="middle">4</text>
<text x="696.3000000000001" y="1002.5" font-size="33.5" class="b" text-anchor="middle">5</text>
<text x="798.9" y="1002.5" font-size="33.5" class="b" text-anchor="middle">6</text>
<text x="901.3000000000001" y="1002.5" font-size="33.5" class="b" text-anchor="middle">7</text>
<text x="1005.9" y="1002.5" font-size="33.5" class="b" text-anchor="middle">8</text>
<text x="1108.1" y="1002.5" font-size="33.5" class="b" text-anchor="middle">9</text>
<text x="1210.6" y="1002.5" font-size="33.5" class="b" text-anchor="middle">10</text>
<text x="897" y="1065.3" font-size="36.5" class="b" textLength="325" lengthAdjust="spacingAndGlyphs">Frequency (cycles/m)</text>
<text x="437.5" y="926.5" font-size="48.5" textLength="224.5" lengthAdjust="spacingAndGlyphs">MTM Data</text>
<rect x="660" y="318" width="238.4" height="204.6" fill="none" stroke="#231f20" stroke-width="1.8"/>
<line x1="696.5" y1="344.7" x2="761" y2="344.7" stroke="#231f20" stroke-width="2"/>
<text x="780" y="349.8" font-size="26" class="b" textLength="102.5" lengthAdjust="spacingAndGlyphs">mtm data</text>
<text x="677" y="389" font-size="28.5" textLength="206" lengthAdjust="spacingAndGlyphs">Confidence Level</text>
<line x1="710.7" y1="415.6" x2="775.6" y2="415.6" stroke="#ee3a2d" stroke-width="3.3"/>
<text x="796.5" y="420.6" font-size="24.5" class="b" textLength="48.5" lengthAdjust="spacingAndGlyphs">90<tspan font-weight="normal" font-style="italic">%</tspan></text>
<line x1="710.7" y1="455.7" x2="775.6" y2="455.7" stroke="#009a4e" stroke-width="3.3"/>
<text x="796.5" y="460.8" font-size="24.5" class="b" textLength="48.5" lengthAdjust="spacingAndGlyphs">95<tspan font-weight="normal" font-style="italic">%</tspan></text>
<line x1="710.7" y1="495.9" x2="775.6" y2="495.9" stroke="#27409a" stroke-width="3.3"/>
<text x="796.5" y="500.6" font-size="24.5" class="b" textLength="48.5" lengthAdjust="spacingAndGlyphs">99<tspan font-weight="normal" font-style="italic">%</tspan></text>
<rect x="911.5" y="317.3" width="272.6" height="204.8" fill="none" stroke="#231f20" stroke-width="1.8"/>
<text font-size="24.6" class="b"><tspan x="940" y="345.2">E1</tspan><tspan x="975" y="349.2">~</tspan><tspan x="995" y="345.2">100</tspan><tspan x="1038.5" y="345.2">kyr</tspan></text>
<text font-size="24.6" class="b"><tspan x="940" y="368.4">E2</tspan><tspan x="975" y="372.4">~</tspan><tspan x="995" y="368.4">405</tspan><tspan x="1038.5" y="368.4">kyr</tspan></text>
<text x="926.5" y="393.3" font-size="24.6" class="b" textLength="241.5" lengthAdjust="spacingAndGlyphs">Cycles calculated from</text>
<text x="927" y="423.8" font-size="24.6" class="b" textLength="210" lengthAdjust="spacingAndGlyphs">Berger et al. (1992):</text>
<text font-size="24.6" class="b"><tspan x="940" y="442.8">O1</tspan><tspan x="984.5" y="446.8">~</tspan><tspan x="1003.5" y="442.8">35</tspan><tspan x="1035.4" y="442.8">kyr</tspan></text>
<text font-size="24.6" class="b"><tspan x="940" y="466">O2</tspan><tspan x="984.5" y="470">~</tspan><tspan x="1003.5" y="466">45</tspan><tspan x="1035.4" y="466">kyr</tspan></text>
<text font-size="24.6" class="b"><tspan x="940" y="487.9">P1</tspan><tspan x="980" y="491.9">~</tspan><tspan x="1000" y="487.9">18</tspan><tspan x="1030.5" y="487.9">kyr</tspan></text>
<text font-size="24.6" class="b"><tspan x="940" y="510.6">P2</tspan><tspan x="980" y="514.6">~</tspan><tspan x="1000" y="510.6">21</tspan><tspan x="1030.5" y="510.6">kyr</tspan></text>
<rect x="192.6" y="1018.7" width="392.7" height="92" fill="none" stroke="#231f20" stroke-width="2.6"/>
<rect x="208.5" y="1036.4" width="181.5" height="19.5" fill="#b5e3d8"/>
<rect x="208" y="1068.1" width="182" height="22.6" fill="#b5e3d8"/>
<path d="M213.5 1073.9h2.8v2.7h-2.8zM213.5 1079.2h2.8v2.7h-2.8zM213.5 1084.5h2.8v2.7h-2.8zM218.8 1071.2h2.8v2.7h-2.8zM218.8 1076.5h2.8v2.7h-2.8zM218.8 1081.8h2.8v2.7h-2.8zM224.1 1073.9h2.8v2.7h-2.8zM224.1 1079.2h2.8v2.7h-2.8zM224.1 1084.5h2.8v2.7h-2.8zM229.4 1071.2h2.8v2.7h-2.8zM229.4 1076.5h2.8v2.7h-2.8zM229.4 1081.8h2.8v2.7h-2.8zM234.7 1073.9h2.8v2.7h-2.8zM234.7 1079.2h2.8v2.7h-2.8zM234.7 1084.5h2.8v2.7h-2.8zM240.0 1071.2h2.8v2.7h-2.8zM240.0 1076.5h2.8v2.7h-2.8zM240.0 1081.8h2.8v2.7h-2.8zM245.3 1073.9h2.8v2.7h-2.8zM245.3 1079.2h2.8v2.7h-2.8zM245.3 1084.5h2.8v2.7h-2.8zM250.6 1071.2h2.8v2.7h-2.8zM250.6 1076.5h2.8v2.7h-2.8zM250.6 1081.8h2.8v2.7h-2.8zM255.9 1073.9h2.8v2.7h-2.8zM255.9 1079.2h2.8v2.7h-2.8zM255.9 1084.5h2.8v2.7h-2.8zM261.2 1071.2h2.8v2.7h-2.8zM261.2 1076.5h2.8v2.7h-2.8zM261.2 1081.8h2.8v2.7h-2.8zM266.5 1073.9h2.8v2.7h-2.8zM266.5 1079.2h2.8v2.7h-2.8zM266.5 1084.5h2.8v2.7h-2.8zM271.8 1071.2h2.8v2.7h-2.8zM271.8 1076.5h2.8v2.7h-2.8zM271.8 1081.8h2.8v2.7h-2.8zM277.1 1073.9h2.8v2.7h-2.8zM277.1 1079.2h2.8v2.7h-2.8zM277.1 1084.5h2.8v2.7h-2.8zM282.4 1071.2h2.8v2.7h-2.8zM282.4 1076.5h2.8v2.7h-2.8zM282.4 1081.8h2.8v2.7h-2.8zM287.7 1073.9h2.8v2.7h-2.8zM287.7 1079.2h2.8v2.7h-2.8zM287.7 1084.5h2.8v2.7h-2.8zM293.0 1071.2h2.8v2.7h-2.8zM293.0 1076.5h2.8v2.7h-2.8zM293.0 1081.8h2.8v2.7h-2.8zM298.3 1073.9h2.8v2.7h-2.8zM298.3 1079.2h2.8v2.7h-2.8zM298.3 1084.5h2.8v2.7h-2.8zM303.6 1071.2h2.8v2.7h-2.8zM303.6 1076.5h2.8v2.7h-2.8zM303.6 1081.8h2.8v2.7h-2.8zM308.9 1073.9h2.8v2.7h-2.8zM308.9 1079.2h2.8v2.7h-2.8zM308.9 1084.5h2.8v2.7h-2.8zM314.2 1071.2h2.8v2.7h-2.8zM314.2 1076.5h2.8v2.7h-2.8zM314.2 1081.8h2.8v2.7h-2.8zM319.5 1073.9h2.8v2.7h-2.8zM319.5 1079.2h2.8v2.7h-2.8zM319.5 1084.5h2.8v2.7h-2.8zM324.8 1071.2h2.8v2.7h-2.8zM324.8 1076.5h2.8v2.7h-2.8zM324.8 1081.8h2.8v2.7h-2.8zM330.1 1073.9h2.8v2.7h-2.8zM330.1 1079.2h2.8v2.7h-2.8zM330.1 1084.5h2.8v2.7h-2.8zM335.4 1071.2h2.8v2.7h-2.8zM335.4 1076.5h2.8v2.7h-2.8zM335.4 1081.8h2.8v2.7h-2.8zM340.7 1073.9h2.8v2.7h-2.8zM340.7 1079.2h2.8v2.7h-2.8zM340.7 1084.5h2.8v2.7h-2.8zM346.0 1071.2h2.8v2.7h-2.8zM346.0 1076.5h2.8v2.7h-2.8zM346.0 1081.8h2.8v2.7h-2.8zM351.3 1073.9h2.8v2.7h-2.8zM351.3 1079.2h2.8v2.7h-2.8zM351.3 1084.5h2.8v2.7h-2.8zM356.6 1071.2h2.8v2.7h-2.8zM356.6 1076.5h2.8v2.7h-2.8zM356.6 1081.8h2.8v2.7h-2.8zM361.9 1073.9h2.8v2.7h-2.8zM361.9 1079.2h2.8v2.7h-2.8zM361.9 1084.5h2.8v2.7h-2.8zM367.2 1071.2h2.8v2.7h-2.8zM367.2 1076.5h2.8v2.7h-2.8zM367.2 1081.8h2.8v2.7h-2.8zM372.5 1073.9h2.8v2.7h-2.8zM372.5 1079.2h2.8v2.7h-2.8zM372.5 1084.5h2.8v2.7h-2.8zM377.8 1071.2h2.8v2.7h-2.8zM377.8 1076.5h2.8v2.7h-2.8zM377.8 1081.8h2.8v2.7h-2.8zM383.1 1073.9h2.8v2.7h-2.8zM383.1 1079.2h2.8v2.7h-2.8zM383.1 1084.5h2.8v2.7h-2.8z" fill="#fff"/>
<text x="399.5" y="1053.5" font-size="27" textLength="171" lengthAdjust="spacingAndGlyphs">high confidence</text>
<text x="399.5" y="1085.9" font-size="27" textLength="163" lengthAdjust="spacingAndGlyphs">low confidence</text>
</svg></body></html>
